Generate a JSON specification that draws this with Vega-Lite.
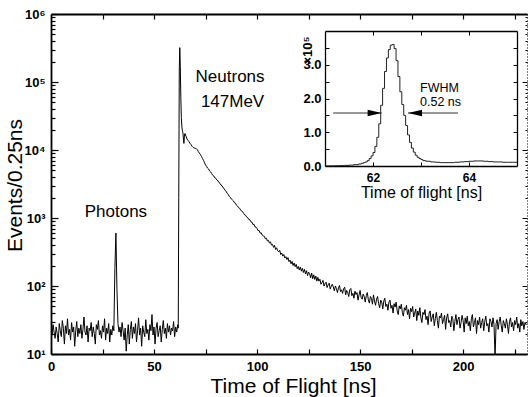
{
"$schema":"https://vega.github.io/schema/vega-lite/v6.json",
"width":476,"height":340,
"autosize":{"type":"none"},
"padding":{"left":51,"top":14,"right":2,"bottom":43},
"config":{"view":{"stroke":null},"font":"Liberation Sans","axis":{"grid":false,"domainColor":"black","tickColor":"black","labelColor":"black","titleColor":"black","labelOverlap":false,"labelFlush":false}},
"datasets":{
"main":[{"t":0,"n":24},{"t":0.5,"n":19},{"t":1,"n":27},{"t":1.5,"n":21},{"t":2,"n":17},{"t":2.5,"n":25},{"t":3,"n":20},{"t":3.5,"n":15},{"t":4,"n":28},{"t":4.5,"n":22},{"t":5,"n":18},{"t":5.5,"n":31},{"t":6,"n":24},{"t":6.5,"n":14},{"t":7,"n":26},{"t":7.5,"n":20},{"t":8,"n":33},{"t":8.5,"n":19},{"t":9,"n":23},{"t":9.5,"n":16},{"t":10,"n":29},{"t":10.5,"n":21},{"t":11,"n":25},{"t":11.5,"n":13},{"t":12,"n":22},{"t":12.5,"n":30},{"t":13,"n":18},{"t":13.5,"n":24},{"t":14,"n":20},{"t":14.5,"n":27},{"t":15,"n":17},{"t":15.5,"n":23},{"t":16,"n":35},{"t":16.5,"n":21},{"t":17,"n":19},{"t":17.5,"n":26},{"t":18,"n":15},{"t":18.5,"n":24},{"t":19,"n":22},{"t":19.5,"n":29},{"t":20,"n":18},{"t":20.5,"n":25},{"t":21,"n":20},{"t":21.5,"n":14},{"t":22,"n":27},{"t":22.5,"n":23},{"t":23,"n":31},{"t":23.5,"n":19},{"t":24,"n":22},{"t":24.5,"n":17},{"t":25,"n":26},{"t":25.5,"n":21},{"t":26,"n":33},{"t":26.5,"n":16},{"t":27,"n":24},{"t":27.5,"n":20},{"t":28,"n":28},{"t":28.5,"n":15},{"t":29,"n":23},{"t":29.5,"n":19},{"t":30,"n":26},{"t":30.5,"n":22},{"t":31,"n":180},{"t":31.5,"n":600},{"t":32,"n":90},{"t":32.5,"n":28},{"t":33,"n":21},{"t":33.5,"n":25},{"t":34,"n":18},{"t":34.5,"n":29},{"t":35,"n":22},{"t":35.5,"n":16},{"t":36,"n":24},{"t":36.5,"n":11},{"t":37,"n":19},{"t":37.5,"n":27},{"t":38,"n":14},{"t":38.5,"n":23},{"t":39,"n":30},{"t":39.5,"n":17},{"t":40,"n":25},{"t":40.5,"n":20},{"t":41,"n":28},{"t":41.5,"n":15},{"t":42,"n":22},{"t":42.5,"n":34},{"t":43,"n":19},{"t":43.5,"n":24},{"t":44,"n":13},{"t":44.5,"n":26},{"t":45,"n":21},{"t":45.5,"n":18},{"t":46,"n":32},{"t":46.5,"n":20},{"t":47,"n":23},{"t":47.5,"n":16},{"t":48,"n":27},{"t":48.5,"n":22},{"t":49,"n":38},{"t":49.5,"n":19},{"t":50,"n":25},{"t":50.5,"n":14},{"t":51,"n":24},{"t":51.5,"n":29},{"t":52,"n":18},{"t":52.5,"n":22},{"t":53,"n":26},{"t":53.5,"n":15},{"t":54,"n":23},{"t":54.5,"n":31},{"t":55,"n":20},{"t":55.5,"n":24},{"t":56,"n":17},{"t":56.5,"n":28},{"t":57,"n":21},{"t":57.5,"n":26},{"t":58,"n":19},{"t":58.5,"n":24},{"t":59,"n":22},{"t":59.5,"n":30},{"t":60,"n":18},{"t":60.5,"n":25},{"t":61,"n":21},{"t":61.5,"n":27},{"t":61.75,"n":24},{"t":62,"n":2000},{"t":62.25,"n":150000},{"t":62.5,"n":320000},{"t":62.75,"n":170000},{"t":63,"n":60000},{"t":63.25,"n":30000},{"t":63.5,"n":22000},{"t":63.75,"n":19500},{"t":64,"n":18000},{"t":64.25,"n":15000},{"t":64.5,"n":12500},{"t":64.75,"n":16000},{"t":65,"n":17500},{"t":65.5,"n":16000},{"t":66,"n":14500},{"t":66.5,"n":13900},{"t":67,"n":13200},{"t":67.5,"n":12500},{"t":68,"n":12000},{"t":68.5,"n":11300},{"t":69,"n":10900},{"t":69.5,"n":10700},{"t":70,"n":10600},{"t":70.5,"n":10500},{"t":71,"n":10100},{"t":71.5,"n":9500},{"t":72,"n":9000},{"t":72.5,"n":8600},{"t":73,"n":8050},{"t":73.5,"n":7500},{"t":74,"n":7050},{"t":74.5,"n":6500},{"t":75,"n":6000},{"t":75.5,"n":5750},{"t":76,"n":5400},{"t":76.5,"n":5250},{"t":77,"n":4900},{"t":77.5,"n":4750},{"t":78,"n":4500},{"t":78.5,"n":4250},{"t":79,"n":4150},{"t":79.5,"n":3900},{"t":80,"n":3820},{"t":80.5,"n":3620},{"t":81,"n":3520},{"t":81.5,"n":3320},{"t":82,"n":3230},{"t":82.5,"n":3050},{"t":83,"n":2980},{"t":83.5,"n":2790},{"t":84,"n":2720},{"t":84.5,"n":2540},{"t":85,"n":2470},{"t":85.5,"n":2300},{"t":86,"n":2230},{"t":86.5,"n":2080},{"t":87,"n":2020},{"t":87.5,"n":1900},{"t":88,"n":1850},{"t":88.5,"n":1790},{"t":89,"n":1680},{"t":89.5,"n":1650},{"t":90,"n":1540},{"t":90.5,"n":1500},{"t":91,"n":1420},{"t":91.5,"n":1395},{"t":92,"n":1320},{"t":92.5,"n":1260},{"t":93,"n":1240},{"t":93.5,"n":1170},{"t":94,"n":1110},{"t":94.5,"n":1095},{"t":95,"n":1030},{"t":95.5,"n":1010},{"t":96,"n":950},{"t":96.5,"n":945},{"t":97,"n":880},{"t":97.5,"n":870},{"t":98,"n":800},{"t":98.5,"n":810},{"t":99,"n":740},{"t":99.5,"n":735},{"t":100,"n":700},{"t":100.5,"n":650},{"t":101,"n":655},{"t":101.5,"n":600},{"t":102,"n":605},{"t":102.5,"n":560},{"t":103,"n":545},{"t":103.5,"n":540},{"t":104,"n":495},{"t":104.5,"n":505},{"t":105,"n":460},{"t":105.5,"n":470},{"t":106,"n":430},{"t":106.5,"n":445},{"t":107,"n":400},{"t":107.5,"n":410},{"t":108,"n":370},{"t":108.5,"n":395},{"t":109,"n":345},{"t":109.5,"n":365},{"t":110,"n":330},{"t":110.5,"n":318},{"t":111,"n":335},{"t":111.5,"n":290},{"t":112,"n":305},{"t":112.5,"n":275},{"t":113,"n":290},{"t":113.5,"n":258},{"t":114,"n":270},{"t":114.5,"n":245},{"t":115,"n":262},{"t":115.5,"n":228},{"t":116,"n":240},{"t":116.5,"n":212},{"t":117,"n":230},{"t":117.5,"n":200},{"t":118,"n":218},{"t":118.5,"n":192},{"t":119,"n":208},{"t":119.5,"n":180},{"t":120,"n":194},{"t":120.5,"n":172},{"t":121,"n":190},{"t":121.5,"n":165},{"t":122,"n":182},{"t":122.5,"n":158},{"t":123,"n":176},{"t":123.5,"n":150},{"t":124,"n":168},{"t":124.5,"n":142},{"t":125,"n":160},{"t":125.5,"n":152},{"t":126,"n":132},{"t":126.5,"n":155},{"t":127,"n":128},{"t":127.5,"n":146},{"t":128,"n":125},{"t":128.5,"n":140},{"t":129,"n":118},{"t":129.5,"n":134},{"t":130,"n":118},{"t":130.5,"n":126},{"t":131,"n":106},{"t":131.5,"n":112},{"t":132,"n":121},{"t":132.5,"n":100},{"t":133,"n":108},{"t":133.5,"n":114},{"t":134,"n":95},{"t":134.5,"n":104},{"t":135,"n":110},{"t":135.5,"n":90},{"t":136,"n":99},{"t":136.5,"n":106},{"t":137,"n":97},{"t":137.5,"n":85},{"t":138,"n":100},{"t":138.5,"n":92},{"t":139,"n":80},{"t":139.5,"n":94},{"t":140,"n":102},{"t":140.5,"n":83},{"t":141,"n":88},{"t":141.5,"n":78},{"t":142,"n":91},{"t":142.5,"n":96},{"t":143,"n":74},{"t":143.5,"n":86},{"t":144,"n":80},{"t":144.5,"n":70},{"t":145,"n":88},{"t":145.5,"n":92},{"t":146,"n":72},{"t":146.5,"n":78},{"t":147,"n":66},{"t":147.5,"n":84},{"t":148,"n":75},{"t":148.5,"n":80},{"t":149,"n":62},{"t":149.5,"n":74},{"t":150,"n":86},{"t":150.5,"n":68},{"t":151,"n":64},{"t":151.5,"n":76},{"t":152,"n":70},{"t":152.5,"n":58},{"t":153,"n":72},{"t":153.5,"n":80},{"t":154,"n":63},{"t":154.5,"n":56},{"t":155,"n":70},{"t":155.5,"n":66},{"t":156,"n":54},{"t":156.5,"n":74},{"t":157,"n":60},{"t":157.5,"n":52},{"t":158,"n":64},{"t":158.5,"n":70},{"t":159,"n":55},{"t":159.5,"n":48},{"t":160,"n":62},{"t":160.5,"n":58},{"t":161,"n":46},{"t":161.5,"n":60},{"t":162,"n":66},{"t":162.5,"n":50},{"t":163,"n":54},{"t":163.5,"n":44},{"t":164,"n":58},{"t":164.5,"n":62},{"t":165,"n":47},{"t":165.5,"n":52},{"t":166,"n":40},{"t":166.5,"n":55},{"t":167,"n":49},{"t":167.5,"n":58},{"t":168,"n":43},{"t":168.5,"n":38},{"t":169,"n":51},{"t":169.5,"n":46},{"t":170,"n":54},{"t":170.5,"n":41},{"t":171,"n":36},{"t":171.5,"n":48},{"t":172,"n":44},{"t":172.5,"n":52},{"t":173,"n":38},{"t":173.5,"n":45},{"t":174,"n":33},{"t":174.5,"n":47},{"t":175,"n":42},{"t":175.5,"n":50},{"t":176,"n":35},{"t":176.5,"n":40},{"t":177,"n":46},{"t":177.5,"n":31},{"t":178,"n":43},{"t":178.5,"n":37},{"t":179,"n":48},{"t":179.5,"n":34},{"t":180,"n":29},{"t":180.5,"n":41},{"t":181,"n":38},{"t":181.5,"n":45},{"t":182,"n":32},{"t":182.5,"n":36},{"t":183,"n":27},{"t":183.5,"n":40},{"t":184,"n":43},{"t":184.5,"n":30},{"t":185,"n":35},{"t":185.5,"n":39},{"t":186,"n":26},{"t":186.5,"n":33},{"t":187,"n":41},{"t":187.5,"n":31},{"t":188,"n":24},{"t":188.5,"n":36},{"t":189,"n":34},{"t":189.5,"n":40},{"t":190,"n":28},{"t":190.5,"n":32},{"t":191,"n":37},{"t":191.5,"n":23},{"t":192,"n":34},{"t":192.5,"n":39},{"t":193,"n":29},{"t":193.5,"n":31},{"t":194,"n":25},{"t":194.5,"n":36},{"t":195,"n":33},{"t":195.5,"n":22},{"t":196,"n":30},{"t":196.5,"n":38},{"t":197,"n":27},{"t":197.5,"n":32},{"t":198,"n":35},{"t":198.5,"n":24},{"t":199,"n":29},{"t":199.5,"n":37},{"t":200,"n":31},{"t":200.5,"n":21},{"t":201,"n":34},{"t":201.5,"n":28},{"t":202,"n":36},{"t":202.5,"n":26},{"t":203,"n":30},{"t":203.5,"n":22},{"t":204,"n":33},{"t":204.5,"n":38},{"t":205,"n":25},{"t":205.5,"n":29},{"t":206,"n":34},{"t":206.5,"n":20},{"t":207,"n":31},{"t":207.5,"n":27},{"t":208,"n":35},{"t":208.5,"n":24},{"t":209,"n":29},{"t":209.5,"n":33},{"t":210,"n":22},{"t":210.5,"n":30},{"t":211,"n":36},{"t":211.5,"n":26},{"t":212,"n":28},{"t":212.5,"n":21},{"t":213,"n":33},{"t":213.5,"n":30},{"t":214,"n":25},{"t":214.5,"n":34},{"t":215,"n":27},{"t":215.5,"n":9},{"t":216,"n":28},{"t":216.5,"n":32},{"t":217,"n":23},{"t":217.5,"n":30},{"t":218,"n":35},{"t":218.5,"n":26},{"t":219,"n":21},{"t":219.5,"n":31},{"t":220,"n":28},{"t":220.5,"n":24},{"t":221,"n":33},{"t":221.5,"n":27},{"t":222,"n":20},{"t":222.5,"n":30},{"t":223,"n":34},{"t":223.5,"n":25},{"t":224,"n":29},{"t":224.5,"n":22},{"t":225,"n":31},{"t":225.5,"n":27},{"t":226,"n":35},{"t":226.5,"n":24},{"t":227,"n":28},{"t":227.5,"n":21},{"t":228,"n":32},{"t":228.5,"n":26},{"t":229,"n":30},{"t":229.5,"n":23},{"t":230,"n":29},{"t":230.5,"n":27},{"t":231,"n":28}],
"inset":[{"t":61.0,"c":0.003},{"t":61.1,"c":0.005},{"t":61.2,"c":0.008},{"t":61.3,"c":0.012},{"t":61.4,"c":0.018},{"t":61.5,"c":0.026},{"t":61.6,"c":0.04},{"t":61.7,"c":0.06},{"t":61.76,"c":0.08},{"t":61.8,"c":0.1},{"t":61.84,"c":0.12},{"t":61.88,"c":0.16},{"t":61.92,"c":0.22},{"t":61.96,"c":0.3},{"t":62.0,"c":0.4},{"t":62.04,"c":0.58},{"t":62.08,"c":0.85},{"t":62.12,"c":1.25},{"t":62.16,"c":1.8},{"t":62.2,"c":2.3},{"t":62.24,"c":2.8},{"t":62.28,"c":3.2},{"t":62.32,"c":3.45},{"t":62.36,"c":3.58},{"t":62.4,"c":3.6},{"t":62.44,"c":3.48},{"t":62.48,"c":3.12},{"t":62.52,"c":2.65},{"t":62.56,"c":2.2},{"t":62.6,"c":1.82},{"t":62.64,"c":1.5},{"t":62.68,"c":1.2},{"t":62.72,"c":0.92},{"t":62.76,"c":0.7},{"t":62.8,"c":0.53},{"t":62.84,"c":0.41},{"t":62.88,"c":0.32},{"t":62.92,"c":0.26},{"t":62.96,"c":0.22},{"t":63.0,"c":0.19},{"t":63.04,"c":0.16},{"t":63.1,"c":0.14},{"t":63.2,"c":0.12},{"t":63.3,"c":0.11},{"t":63.4,"c":0.1},{"t":63.5,"c":0.1},{"t":63.6,"c":0.1},{"t":63.7,"c":0.11},{"t":63.8,"c":0.12},{"t":63.9,"c":0.13},{"t":64.0,"c":0.14},{"t":64.1,"c":0.15},{"t":64.2,"c":0.15},{"t":64.3,"c":0.14},{"t":64.4,"c":0.13},{"t":64.5,"c":0.12},{"t":64.6,"c":0.12},{"t":64.7,"c":0.11},{"t":64.8,"c":0.11},{"t":64.9,"c":0.11},{"t":65.0,"c":0.11}],
"labels":[{"t":31.5,"n":1225,"txt":"Photons"},{"t":86.9,"n":118600,"txt":"Neutrons"},{"t":88.1,"n":50800,"txt":"147MeV"}],
"insetText":[{"x":62.98,"y":2.3,"txt":"FWHM"},{"x":62.98,"y":1.91,"txt":"0.52  ns"}],
"arrows":[{"x1":61.17,"x2":62.18,"y":1.57,"dir":"r"},{"x1":63.77,"x2":62.73,"y":1.57,"dir":"l"}]
},
"resolve":{"scale":{"x":"independent","y":"independent"},"axis":{"x":"independent","y":"independent"}},
"layer":[
{"data":{"name":"main"},
 "mark":{"type":"line","color":"black","strokeWidth":1,"clip":true},
 "encoding":{
  "x":{"field":"t","type":"quantitative","scale":{"domain":[0,231],"nice":false,"zero":false},
   "axis":{"orient":"bottom","values":[0,25,50,75,100,125,150,175,200,225],"labelExpr":"datum.value % 50 === 0 ? datum.label : ''","tickSize":-5,"tickWidth":1.2,"domainWidth":1.8,"labelFontSize":13,"labelFontWeight":"bold","labelPadding":11,"title":"Time of Flight [ns]","titleFontSize":21,"titleFontWeight":"normal","titleX":242,"titleY":32,"titleAlign":"center","titleBaseline":"middle"}},
  "y":{"field":"n","type":"quantitative","scale":{"type":"log","domain":[10,1000000],"nice":false},
   "axis":{"orient":"left","values":[10,20,30,40,50,60,70,80,90,100,200,300,400,500,600,700,800,900,1000,2000,3000,4000,5000,6000,7000,8000,9000,10000,20000,30000,40000,50000,60000,70000,80000,90000,100000,200000,300000,400000,500000,600000,700000,800000,900000,1000000],
    "labelExpr":"indexof([10,100,1000,10000,100000,1000000], datum.value) >= 0 ? '10' + ['','¹','²','³','⁴','⁵','⁶'][round(log(datum.value)/LN10)] : ''",
    "tickSize":{"condition":{"test":"indexof([10,100,1000,10000,100000,1000000], datum.value) >= 0","value":-7},"value":-4},
    "tickWidth":1.2,"domainWidth":1.8,"labelFontSize":13,"labelFontWeight":"bold","labelPadding":13,"labelBaseline":"middle",
    "title":"Events/0.25ns","titleFontSize":21,"titleFontWeight":"normal","titleX":-36,"titleY":171,"titleAngle":270,"titleAlign":"center","titleBaseline":"middle"}}
 }},
{"data":{"name":"main"},
 "mark":{"type":"line","strokeOpacity":0},
 "encoding":{
  "x":{"field":"t","type":"quantitative","scale":{"domain":[0,231],"nice":false,"zero":false},
   "axis":{"orient":"top","values":[25,50,75,100,125,150,175,200,225],"labels":false,"tickSize":-5,"tickWidth":1.2,"domainWidth":1.8,"title":null}},
  "y":{"field":"n","type":"quantitative","scale":{"type":"log","domain":[10,1000000],"nice":false},
   "axis":{"orient":"right","values":[10,20,30,40,50,60,70,80,90,100,200,300,400,500,600,700,800,900,1000,2000,3000,4000,5000,6000,7000,8000,9000,10000,20000,30000,40000,50000,60000,70000,80000,90000,100000,200000,300000,400000,500000,600000,700000,800000,900000,1000000],
    "labels":false,"tickSize":{"condition":{"test":"indexof([10,100,1000,10000,100000,1000000], datum.value) >= 0","value":-5},"value":-2},"domainDash":[1,2],"domainWidth":1,"title":null}}
 }},
{"data":{"name":"inset"},
 "mark":{"type":"line","interpolate":"step-after","color":"#222","strokeWidth":1,"clip":false},
 "encoding":{
  "x":{"field":"t","type":"quantitative","scale":{"domain":[61,65],"range":[274,466],"nice":false,"zero":false},
   "axis":{"orient":"bottom","offset":-188,"values":[62,63,64],"labelExpr":"datum.value === 63 ? '' : datum.label","tickSize":-4,"domainWidth":1.3,"labelFontSize":12,"labelFontWeight":"bold","labelPadding":10,"title":"Time of flight [ns]","titleFontSize":16,"titleFontWeight":"normal","titleY":26,"titleBaseline":"middle"}},
  "y":{"field":"c","type":"quantitative","scale":{"domain":[0,4],"range":[152,17],"nice":false,"zero":true},
   "axis":{"orient":"left","offset":-274,"values":[0,0.5,1,1.5,2,2.5,3,3.5],"labelExpr":"datum.value % 1 === 0 ? datum.label : ''","tickSize":-4,"domainWidth":1.3,"labelFontSize":13,"labelFontWeight":"bold","labelPadding":8,"labelBaseline":"middle","title":"×10⁵","titleFontSize":13,"titleFontWeight":"bold","titleAngle":270,"titleX":-18,"titleY":36,"titleAlign":"center","titleBaseline":"middle"}}
 }},
{"data":{"name":"inset"},
 "mark":{"type":"line","strokeOpacity":0},
 "encoding":{
  "x":{"field":"t","type":"quantitative","scale":{"domain":[61,65],"range":[274,466],"nice":false,"zero":false},
   "axis":{"orient":"top","offset":-17,"values":[62,63,64],"labels":false,"tickSize":-4,"domainWidth":1.3,"title":null}},
  "y":{"field":"c","type":"quantitative","scale":{"domain":[0,4],"range":[152,17],"nice":false,"zero":true},
   "axis":{"orient":"right","offset":-10,"values":[0.5,1,1.5,2,2.5,3,3.5],"labels":false,"tickSize":-4,"domainWidth":1.3,"title":null}}
 }},
{"data":{"name":"arrows"},
 "mark":{"type":"rule","color":"#333","strokeWidth":1.2},
 "encoding":{
  "x":{"field":"x1","type":"quantitative","scale":{"domain":[61,65],"range":[274,466],"nice":false,"zero":false},"axis":null},
  "x2":{"field":"x2"},
  "y":{"field":"y","type":"quantitative","scale":{"domain":[0,4],"range":[152,17],"nice":false,"zero":true},"axis":null}
 }},
{"data":{"name":"arrows"},
 "mark":{"type":"point","filled":true,"color":"black","opacity":1,"size":784},
 "encoding":{
  "x":{"field":"x2","type":"quantitative","scale":{"domain":[61,65],"range":[274,466],"nice":false,"zero":false},"axis":null},
  "y":{"field":"y","type":"quantitative","scale":{"domain":[0,4],"range":[152,17],"nice":false,"zero":true},"axis":null},
  "shape":{"field":"dir","type":"nominal","scale":{"domain":["r","l"],"range":["M0,0L-1,-0.24L-1,0.24Z","M0,0L1,-0.24L1,0.24Z"]},"legend":null}
 }},
{"data":{"name":"insetText"},
 "mark":{"type":"text","align":"left","baseline":"middle","fontSize":12.5,"color":"black"},
 "encoding":{
  "x":{"field":"x","type":"quantitative","scale":{"domain":[61,65],"range":[274,466],"nice":false,"zero":false},"axis":null},
  "y":{"field":"y","type":"quantitative","scale":{"domain":[0,4],"range":[152,17],"nice":false,"zero":true},"axis":null},
  "text":{"field":"txt"}
 }},
{"data":{"name":"labels"},
 "mark":{"type":"text","align":"center","baseline":"middle","fontSize":17,"color":"black"},
 "encoding":{
  "x":{"field":"t","type":"quantitative","scale":{"domain":[0,231],"nice":false,"zero":false},"axis":null},
  "y":{"field":"n","type":"quantitative","scale":{"type":"log","domain":[10,1000000],"nice":false},"axis":null},
  "text":{"field":"txt"}
 }}
]
}
